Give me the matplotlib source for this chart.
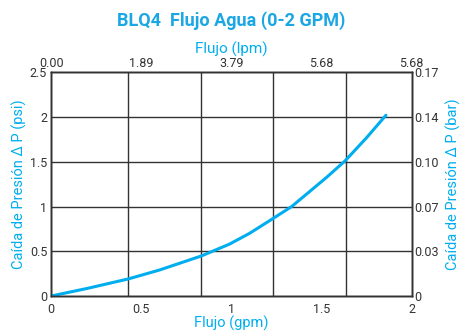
import numpy as np
import matplotlib
from matplotlib import pyplot as plt

# data
flow_gpm = [0, 0.2, 0.426, 0.6, 0.832, 0.989, 1.1, 1.232, 1.334, 1.441, 1.53, 1.63, 1.75, 1.857]
dp_psi = [0, 0.085, 0.19, 0.29, 0.447, 0.58, 0.70, 0.868, 1.0, 1.18, 1.33, 1.51, 1.77, 2.02]

x_ticks = [0, 0.5, 1, 1.5, 2]
x_labels = ['0', '0.5', '1', '1.5', '2']
top_labels = ['0.00', '1.89', '3.79', '5.68', '5.68']
y_ticks = [0, 0.5, 1, 1.5, 2, 2.5]
y_labels = ['0', '0.5', '1', '1.5', '2', '2.5']
bar_labels = ['0', '0.03', '0.07', '0.10', '0.14', '0.17']
vgrid = [0.426, 0.832, 1.232, 1.635]

blue = '#00aeef'
dark = '#333333'

matplotlib.rc('font', family='Roboto', size=9)

fig = plt.figure(figsize=(4.63, 3.34), dpi=100)
ax = fig.add_axes([0.1108, 0.1138, 0.7784, 0.6697])

ax.plot(flow_gpm, dp_psi, color=blue, lw=2.2, solid_capstyle='round', zorder=3)

ax.set_xlim(0, 2)
ax.set_ylim(0, 2.5)
ax.set_xticks(x_ticks)
ax.set_xticklabels(x_labels)
ax.set_yticks(y_ticks)
ax.set_yticklabels(y_labels)
ax.tick_params(length=0, colors=dark, labelsize=9, pad=5)
ax.tick_params(axis='y', pad=3)

for y in y_ticks[1:-1]:
    ax.axhline(y, color=dark, lw=1.0, zorder=1)
for x in vgrid:
    ax.axvline(x, color=dark, lw=1.0, zorder=1)
for s in ax.spines.values():
    s.set_color(dark)
    s.set_linewidth(1.0)

ax.set_xlabel('Flujo (gpm)', color=blue, fontsize=10.5, labelpad=0)
ax.set_ylabel('Caída de Presión Δ P (psi)', color=blue, fontsize=10.5, labelpad=2)

axt = ax.twiny()
axt.set_xlim(ax.get_xlim())
axt.set_xticks(x_ticks)
axt.set_xticklabels(top_labels)
axt.tick_params(length=0, colors=dark, labelsize=9, pad=2)
axt.set_xlabel('Flujo (lpm)', color=blue, fontsize=11, labelpad=2)

axr = ax.twinx()
axr.set_ylim(ax.get_ylim())
axr.set_yticks(y_ticks)
axr.set_yticklabels(bar_labels)
axr.tick_params(length=0, colors=dark, labelsize=9, pad=2)
axr.set_ylabel('Caída de Presión Δ P (bar)', color=blue, fontsize=10.5, labelpad=5)

for a in (axt, axr):
    for s in a.spines.values():
        s.set_color(dark)
        s.set_linewidth(1.0)

fig.text(0.5, 0.937, 'BLQ4  Flujo Agua (0-2 GPM)', ha='center', va='center',
         color='#1aa7e4', fontsize=13, fontweight='bold')

plt.savefig('out.png', dpi=100)
